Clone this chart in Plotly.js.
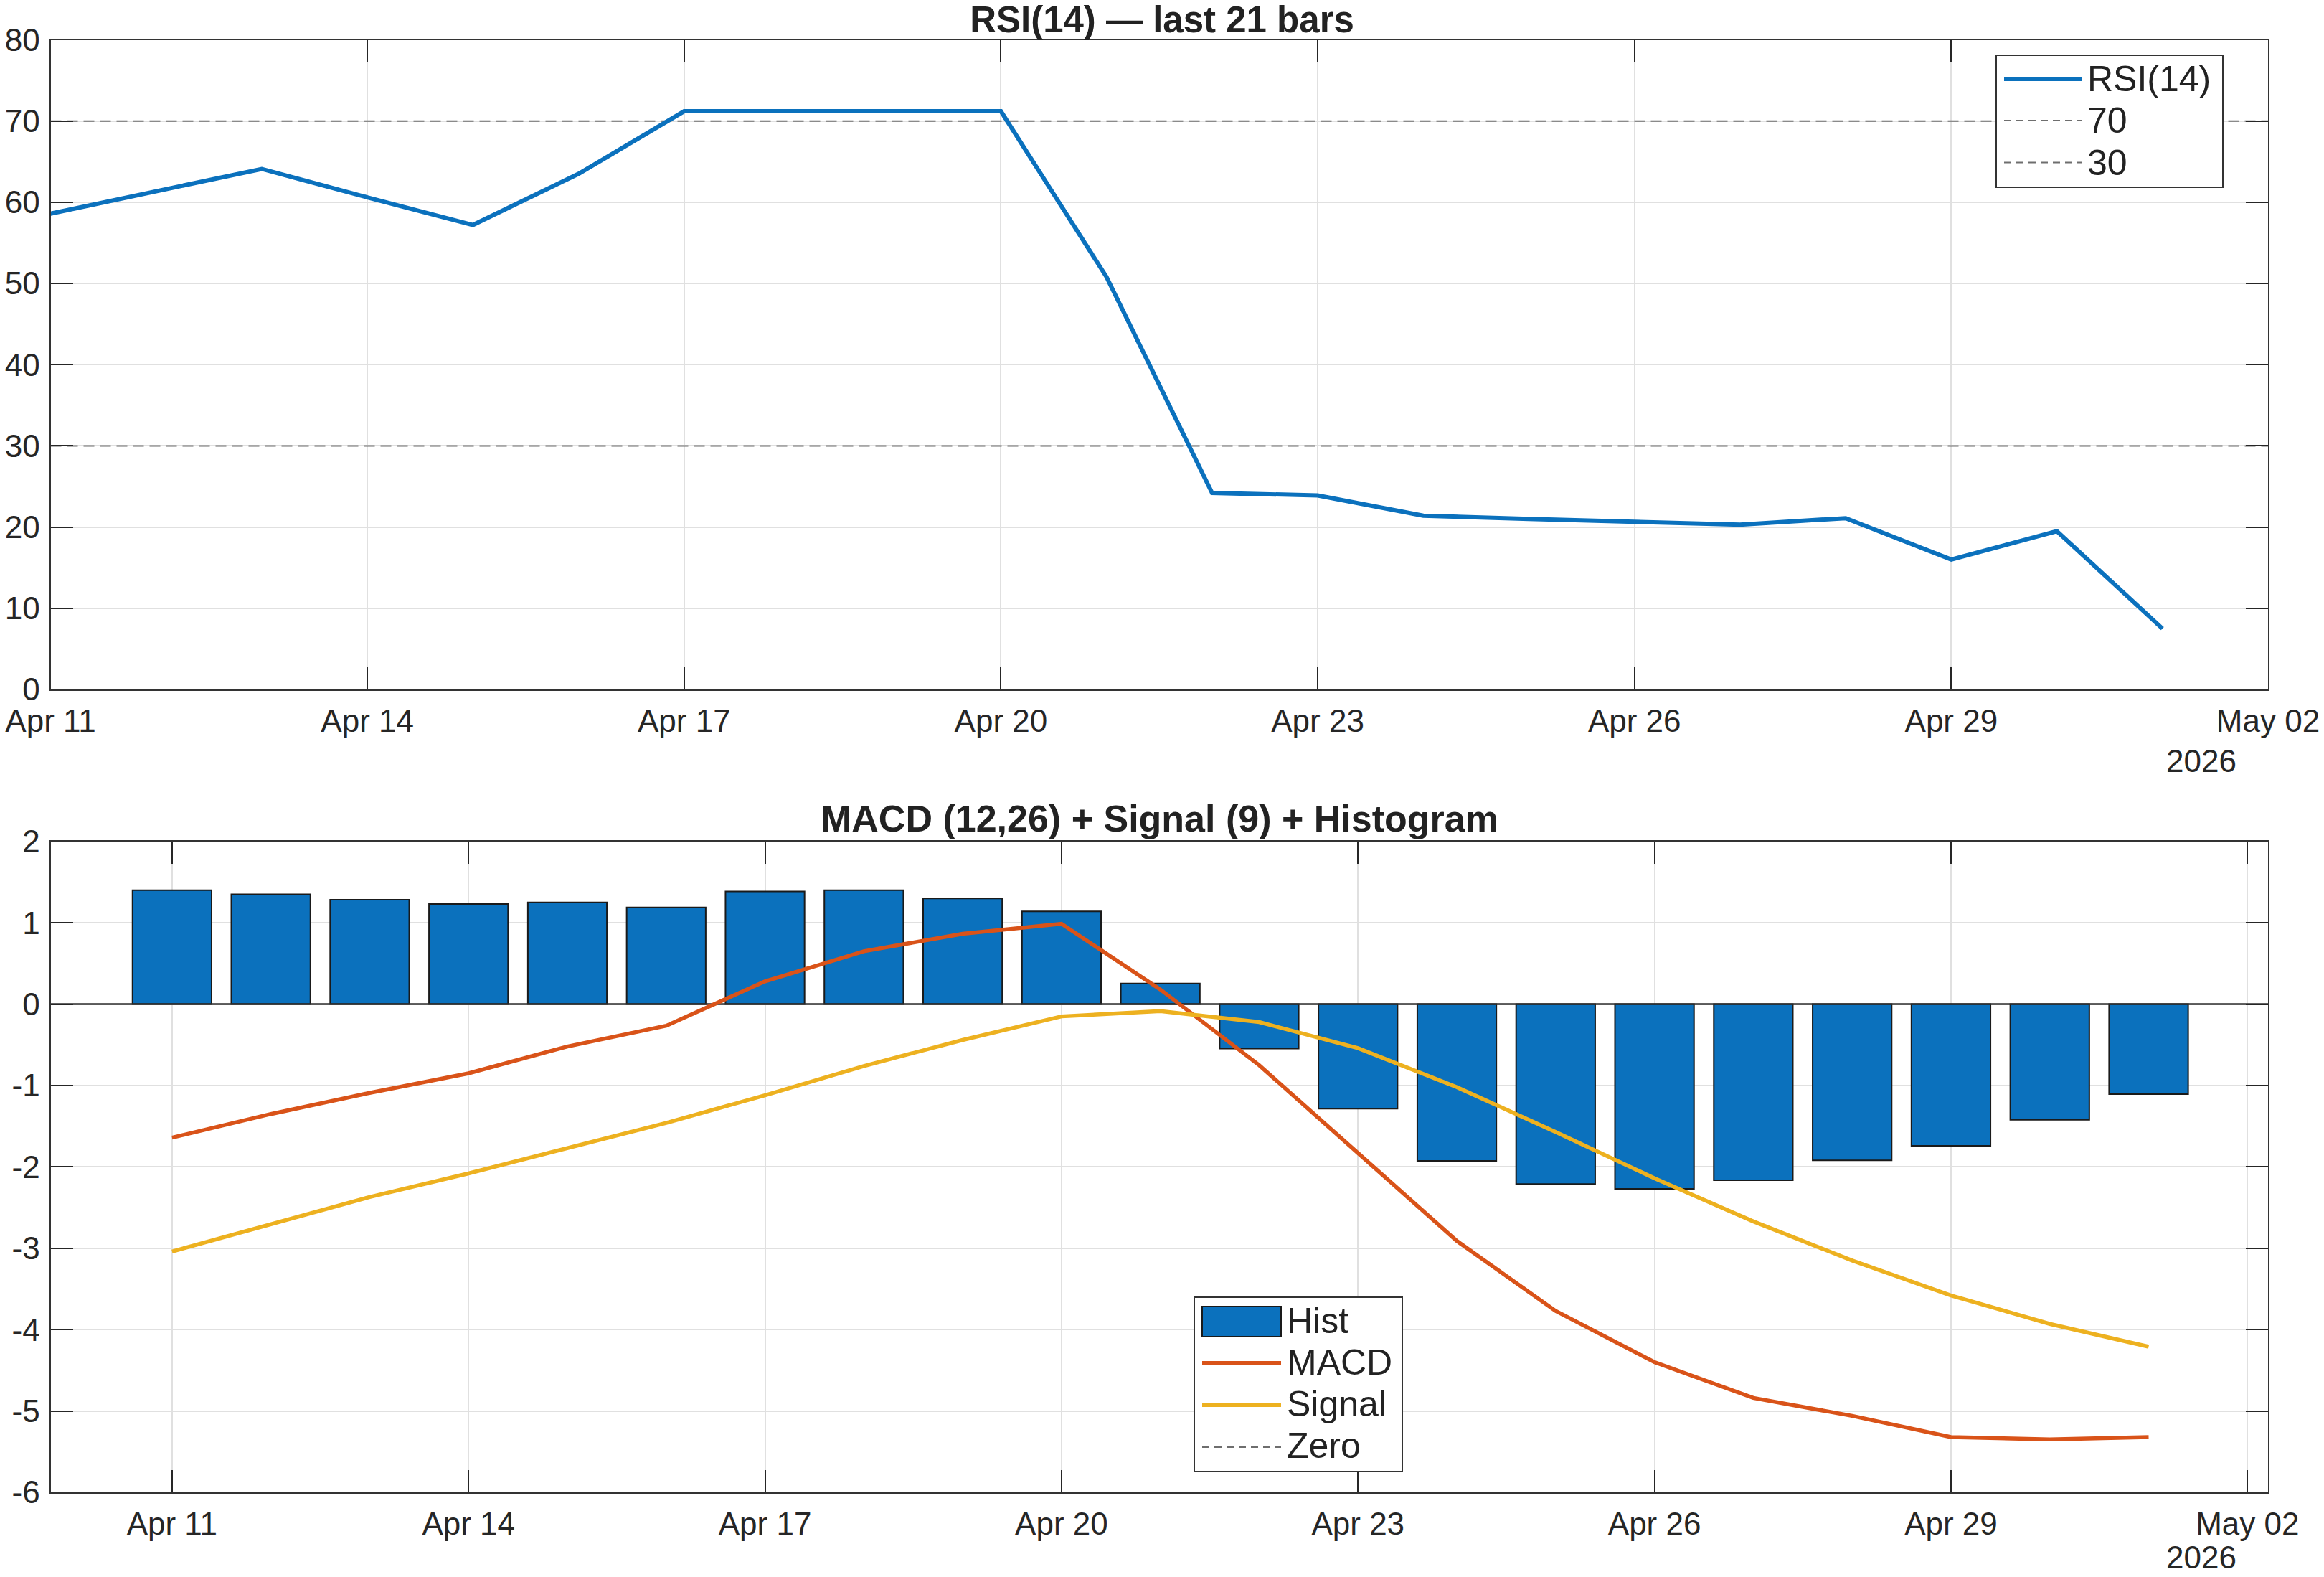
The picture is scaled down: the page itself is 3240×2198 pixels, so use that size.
<!DOCTYPE html>
<html>
<head>
<meta charset="utf-8">
<script src="https://cdn.plot.ly/plotly-3.0.1.min.js"></script>
<style>
  html, body { margin: 0; padding: 0; background: #ffffff; }
  #chart { width: 3240px; height: 2198px; }
</style>
</head>
<body>
<div id="chart"></div>
<script>
// ---- Data: last 21 daily bars ----
const dates = [
  '2026-04-11', '2026-04-12', '2026-04-13', '2026-04-14', '2026-04-15', '2026-04-16', '2026-04-17',
  '2026-04-18', '2026-04-19', '2026-04-20', '2026-04-21', '2026-04-22', '2026-04-23', '2026-04-24',
  '2026-04-25', '2026-04-26', '2026-04-27', '2026-04-28', '2026-04-29', '2026-04-30', '2026-05-01'
];
const rsi = [58.6, 61.3, 64.1, 60.6, 57.2, 63.5, 71.2, 71.2, 71.2, 71.2, 50.8,
             24.2, 23.9, 21.4, 21.0, 20.7, 20.3, 21.1, 16.0, 19.5, 7.5];
const macd = [-1.64, -1.35, -1.09, -0.85, -0.52, -0.265, 0.28, 0.65, 0.865, 0.988, 0.18,
              -0.75, -1.83, -2.91, -3.77, -4.40, -4.84, -5.06, -5.32, -5.35, -5.32];
const signal = [-3.04, -2.70, -2.37, -2.08, -1.77, -1.46, -1.12, -0.76, -0.44, -0.15, -0.086,
                -0.22, -0.54, -1.02, -1.57, -2.14, -2.67, -3.15, -3.58, -3.93, -4.21];
const hist = [1.40, 1.35, 1.285, 1.23, 1.25, 1.19, 1.385, 1.40, 1.30, 1.14, 0.255,
              -0.545, -1.285, -1.925, -2.21, -2.27, -2.165, -1.92, -1.74, -1.42, -1.105];

// Reference levels
const rsiLevels = [70, 30];
const zeroLevel = 0;

// Axis ticks
const rsiTickVals = [0, 10, 20, 30, 40, 50, 60, 70, 80];
const rsiTickText = ['0', '10', '20', '30', '40', '50', '60', '70', '80'];
const macdTickVals = [-6, -5, -4, -3, -2, -1, 0, 1, 2];
const macdTickText = ['-6', '-5', '-4', '-3', '-2', '-1', '0', '1', '2'];
const yearLabel = '2026';

// Titles and legend labels
const rsiTitle = 'RSI(14) — last 21 bars';
const macdTitle = 'MACD (12,26) + Signal (9) + Histogram';
const rsiLegend = ['RSI(14)', '70', '30'];
const macdLegend = ['Hist', 'MACD', 'Signal', 'Zero'];

// ---- Styling ----
const W = 3240, H = 2198;
const FONT = 'Liberation Sans, Arial, Helvetica, sans-serif';
const C_BLUE = '#0B71BD', C_ORANGE = '#D95319', C_YELLOW = '#EDB120';
const C_REF = '#6e6e6e', C_AX = '#333333', C_TXT = '#262626', C_GRID = '#e0e0e0';
const DAY = 86400000;

const px = v => v / W;          // pixel column -> paper x
const py = v => 1 - v / H;      // pixel row -> paper y

const rsiRange = ['2026-04-11', '2026-05-02'];
const macdRange = ['2026-04-09 18:30:00', '2026-05-02 05:00:00'];
const xDomain = [px(70.5), px(3162)];

function dateAxis(range, anchor) {
  return {
    type: 'date', domain: xDomain, anchor: anchor, range: range,
    tick0: '2026-04-11', dtick: 3 * DAY, tickformat: '%b %d',
    ticks: 'inside', ticklen: 31, tickwidth: 2, tickcolor: C_TXT,
    showline: true, linecolor: C_AX, linewidth: 2, mirror: 'ticks',
    showgrid: true, gridcolor: C_GRID, gridwidth: 2, zeroline: false,
    tickfont: { family: FONT, size: 44, color: C_TXT },
    ticklabelstandoff: 4, automargin: false, fixedrange: true
  };
}
function valueAxis(domain, anchor, range, vals, text) {
  return {
    domain: domain, anchor: anchor, range: range,
    tickmode: 'array', tickvals: vals, ticktext: text,
    ticks: 'inside', ticklen: 31, tickwidth: 2, tickcolor: C_TXT,
    showline: true, linecolor: C_AX, linewidth: 2, mirror: 'ticks',
    showgrid: true, gridcolor: C_GRID, gridwidth: 2, zeroline: false,
    tickfont: { family: FONT, size: 44, color: C_TXT },
    ticklabelstandoff: 4, automargin: false, fixedrange: true
  };
}

// ---- Traces ----
const traces = [
  // RSI panel
  { x: rsiRange, y: [rsiLevels[0], rsiLevels[0]], name: rsiLegend[1], mode: 'lines',
    line: { color: C_REF, width: 2, dash: '15px,8px' }, xaxis: 'x', yaxis: 'y', hoverinfo: 'skip' },
  { x: rsiRange, y: [rsiLevels[1], rsiLevels[1]], name: rsiLegend[2], mode: 'lines',
    line: { color: C_REF, width: 2, dash: '15px,8px' }, xaxis: 'x', yaxis: 'y', hoverinfo: 'skip' },
  { x: dates, y: rsi, name: rsiLegend[0], mode: 'lines',
    line: { color: C_BLUE, width: 6 }, xaxis: 'x', yaxis: 'y' },
  // MACD panel
  { x: dates, y: hist, name: macdLegend[0], type: 'bar', width: 0.8 * DAY,
    marker: { color: C_BLUE, line: { color: '#1a1a1a', width: 2 } }, xaxis: 'x2', yaxis: 'y2' },
  // zero reference, merged with the bar baseline
  { x: macdRange, y: [zeroLevel, zeroLevel], name: macdLegend[3], mode: 'lines',
    line: { color: '#2e2e2e', width: 2.5 }, xaxis: 'x2', yaxis: 'y2', hoverinfo: 'skip' },
  { x: dates, y: macd, name: macdLegend[1], mode: 'lines',
    line: { color: C_ORANGE, width: 5.5 }, xaxis: 'x2', yaxis: 'y2' },
  { x: dates, y: signal, name: macdLegend[2], mode: 'lines',
    line: { color: C_YELLOW, width: 5.5 }, xaxis: 'x2', yaxis: 'y2' }
];

// ---- Legend boxes (drawn as paper-space shapes and labels) ----
const shapes = [];
const annotations = [];

function legendLine(x0, x1, y, color, width, dash) {
  shapes.push({ type: 'line', xref: 'paper', yref: 'paper', layer: 'above',
    x0: px(x0), x1: px(x1), y0: py(y), y1: py(y),
    line: { color: color, width: width, dash: dash || 'solid' } });
}
function legendText(x, y, text) {
  annotations.push({ xref: 'paper', yref: 'paper', x: px(x), y: py(y),
    xanchor: 'left', yanchor: 'middle', showarrow: false, text: text,
    font: { family: FONT, size: 50, color: '#222222' } });
}

// RSI legend
shapes.push({ type: 'rect', xref: 'paper', yref: 'paper', layer: 'above',
  x0: px(2783), x1: px(3099), y0: py(261), y1: py(77),
  fillcolor: '#ffffff', line: { color: C_AX, width: 2 } });
legendLine(2794, 2903, 110, C_BLUE, 6);
legendLine(2794, 2903, 168, C_REF, 2, '10px,7px');
legendLine(2794, 2903, 226.5, C_REF, 2, '10px,7px');
legendText(2908, 110, rsiLegend[0]);
legendText(2908, 168, rsiLegend[1]);
legendText(2908, 226.5, rsiLegend[2]);

// MACD legend
shapes.push({ type: 'rect', xref: 'paper', yref: 'paper', layer: 'above',
  x0: px(1665), x1: px(1955), y0: py(2051), y1: py(1808),
  fillcolor: '#ffffff', line: { color: C_AX, width: 2 } });
shapes.push({ type: 'rect', xref: 'paper', yref: 'paper', layer: 'above',
  x0: px(1676), x1: px(1786), y0: py(1863), y1: py(1821),
  fillcolor: C_BLUE, line: { color: '#1a1a1a', width: 2 } });
legendLine(1676, 1786, 1900, C_ORANGE, 6);
legendLine(1676, 1786, 1958, C_YELLOW, 6);
legendLine(1676, 1786, 2017, C_REF, 2, '10px,7px');
legendText(1792, 1841, macdLegend[0]);
legendText(1792, 1899, macdLegend[1]);
legendText(1792, 1957, macdLegend[2]);
legendText(1792, 2015, macdLegend[3]);

// Panel title for MACD and year labels under the date axes
annotations.push({ xref: 'paper', yref: 'paper', x: (xDomain[0] + xDomain[1]) / 2, y: py(1141),
  xanchor: 'center', yanchor: 'middle', showarrow: false, text: '<b>' + macdTitle + '</b>',
  font: { family: FONT, size: 52, color: '#222222' } });
annotations.push({ xref: 'paper', yref: 'paper', x: px(3069), y: py(1060),
  xanchor: 'center', yanchor: 'middle', showarrow: false, text: yearLabel,
  font: { family: FONT, size: 44, color: C_TXT } });
annotations.push({ xref: 'paper', yref: 'paper', x: px(3069), y: py(2170),
  xanchor: 'center', yanchor: 'middle', showarrow: false, text: yearLabel,
  font: { family: FONT, size: 44, color: C_TXT } });

const layout = {
  width: W, height: H,
  margin: { l: 0, r: 0, t: 0, b: 0, pad: 0 },
  paper_bgcolor: '#ffffff', plot_bgcolor: '#ffffff',
  showlegend: false,
  font: { family: FONT, color: C_TXT },
  title: { text: '<b>' + rsiTitle + '</b>', font: { family: FONT, size: 51, color: '#222222' },
           xref: 'paper', x: 0.5, xanchor: 'center', yref: 'container', y: py(27), yanchor: 'middle' },
  xaxis: dateAxis(rsiRange, 'y'),
  yaxis: valueAxis([py(961), py(55.5)], 'x', [0, 80], rsiTickVals, rsiTickText),
  xaxis2: dateAxis(macdRange, 'y2'),
  yaxis2: valueAxis([py(2080), py(1172.8)], 'x2', [-6, 2], macdTickVals, macdTickText),
  bargap: 0,
  shapes: shapes,
  annotations: annotations
};

Plotly.newPlot('chart', traces, layout, { staticPlot: true, displayModeBar: false });
</script>
</body>
</html>
